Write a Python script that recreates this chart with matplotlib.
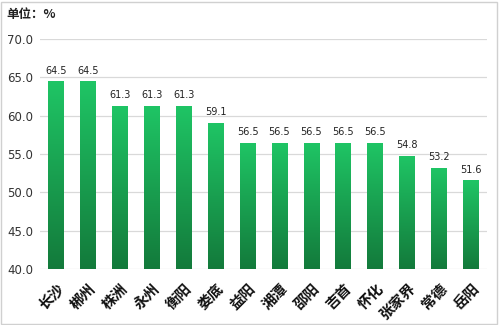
import numpy as np
import matplotlib.pyplot as plt
from matplotlib.colors import LinearSegmentedColormap
from matplotlib.patches import Rectangle

plt.rcParams['font.family'] = ['Noto Sans CJK SC', 'DejaVu Sans']

cities = ["长沙", "郴州", "株洲", "永州", "衡阳", "娄底", "益阳", "湘潭",
          "邵阳", "吉首", "怀化", "张家界", "常德", "岳阳"]
values = [64.5, 64.5, 61.3, 61.3, 61.3, 59.1, 56.5, 56.5, 56.5, 56.5, 56.5,
          54.8, 53.2, 51.6]

fig = plt.figure(figsize=(4.99, 3.25), dpi=100)
ax = fig.add_axes([0.08, 0.172, 0.896, 0.708])

# bars: dark green at the base fading to bright green at the top
cmap = LinearSegmentedColormap.from_list("grn", ["#137a3b", "#1fc565"])
grad = np.linspace(0, 1, 256).reshape(-1, 1)
bw = 0.49
base = 40
for i, v in enumerate(values):
    rect = Rectangle((i - bw / 2, base), bw, v - base, facecolor="none",
                     edgecolor="none", zorder=3)
    ax.add_patch(rect)
    im = ax.imshow(grad, cmap=cmap, origin="lower", aspect="auto",
                   extent=(i - bw / 2, i + bw / 2, base, v), zorder=3)
    im.set_clip_path(rect)
    ax.text(i, v + 0.7, f"{v:.1f}", ha="center", va="bottom", fontsize=7,
            color="#222222", family=["DejaVu Sans"])

ax.set_xlim(-0.5, len(values) - 0.5)
ax.set_ylim(40, 70)
ax.set_yticks(np.arange(40, 71, 5))
ax.set_yticklabels([f"{t:.1f}" for t in np.arange(40, 71, 5)], fontsize=8.5,
                   color="#333333", family=["DejaVu Sans"])
ax.set_xticks(range(len(cities)))
ax.set_xticklabels(cities, rotation=45, ha="right", rotation_mode="anchor",
                   fontsize=10.5, fontweight="bold", color="#111111")
ax.tick_params(length=0, axis="both")
ax.tick_params(axis="x", pad=8)
ax.tick_params(axis="y", pad=5)
ax.grid(axis="y", color="#d9d9d9", linewidth=0.9, zorder=0)
ax.set_axisbelow(True)
for s in ax.spines.values():
    s.set_visible(False)

fig.text(0.012, 0.955, "单位：%", fontsize=9, fontweight="bold", color="#222222",
         va="center")

# light frame around the whole chart
fig.patches.append(Rectangle((0.002, 0.004), 0.994, 0.99, transform=fig.transFigure,
                             fill=False, edgecolor="#d0d0d0", linewidth=1))

fig.savefig("out.png", dpi=100)
